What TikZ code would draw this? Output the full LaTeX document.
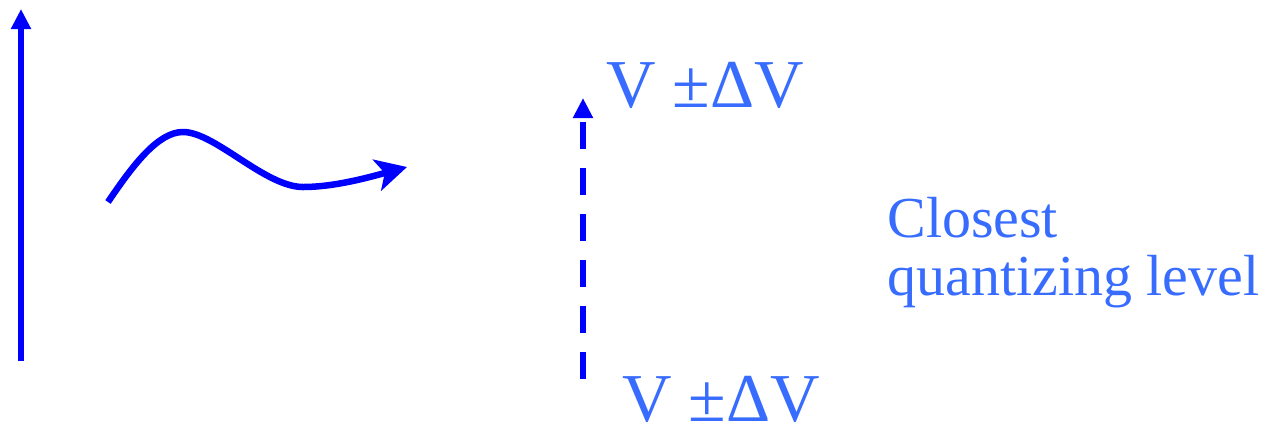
\documentclass[tikz,border=0pt]{standalone}
\usepackage{fontspec}
\setmainfont{Liberation Serif}
\usetikzlibrary{arrows.meta}
\definecolor{arrowblue}{RGB}{0,0,255}
\definecolor{labelblue}{RGB}{55,108,255}
\tikzset{
  axis/.style={line width=0.13cm, color=arrowblue,
    -{Triangle[length=0.4cm, width=0.38cm]}},
  level/.style={axis, dash pattern=on 0.54cm off 0.38cm},
  wave/.style={line width=0.13cm, color=arrowblue,
    -{Stealth[length=0.62cm, width=0.64cm, inset=0.16cm]}},
  vlabel/.style={text=labelblue, inner sep=0pt, anchor=base west,
    font=\fontsize{39}{39}\selectfont},
  qlabel/.style={text=labelblue, inner sep=0pt, anchor=base west,
    align=left, font=\fontsize{33}{33}\selectfont},
}
\begin{document}
\begin{tikzpicture}[x=0.02cm, y=-0.02cm]
  \useasboundingbox (0,0) rectangle (1268,424);

  % vertical axis
  \coordinate (axbot) at (21,361);
  \coordinate (axtop) at (21,9);
  \draw[axis] (axbot) -- (axtop);

  % signal curve
  \coordinate (wstart) at (108,202);
  \coordinate (wpeak)  at (183,132);
  \coordinate (wlow)   at (303,187);
  \coordinate (wend)   at (407,167);
  \draw[wave] (wstart) .. controls (133,165) and (158,132) .. (wpeak)
                       .. controls (215,132) and (265,187) .. (wlow)
                       .. controls (335,187) and (370,177) .. (wend);

  % quantizing step
  \coordinate (lbot) at (583,379);
  \coordinate (ltop) at (583,98);
  \draw[level] (lbot) -- (ltop);

  % labels (base anchor of the two-line node is its last line)
  \node[vlabel] (vtop) at (606,107) {V ±ΔV};
  \node[vlabel] (vbot) at (622,421) {V ±ΔV};
  \node[qlabel] (closest) at (887,295) {Closest\\quantizing level};

\end{tikzpicture}
\end{document}
